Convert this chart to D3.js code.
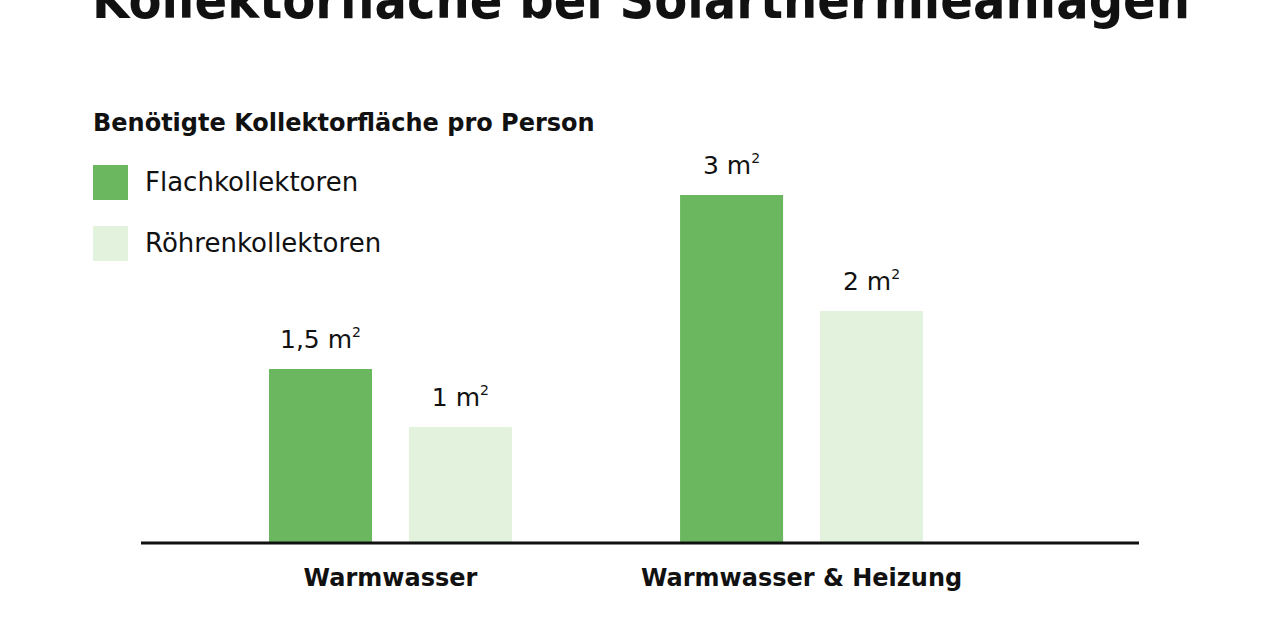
<!DOCTYPE html>
<html>
<head>
<meta charset="utf-8">
<script src="https://cdn.jsdelivr.net/npm/d3@7"></script>
<style>
  body { margin: 0; background: #fff; }
  text { font-family: "DejaVu Sans", "Open Sans", sans-serif; fill: #111; }
</style>
</head>
<body>
<div id="chart"></div>
<script>
// chart values
var categories = ["Warmwasser", "Warmwasser & Heizung"];
var seriesNames = ["Flachkollektoren", "Röhrenkollektoren"];
var flachValues = [1.5, 3];
var roehrenValues = [1, 2];
var valueLabels = [["1,5", "1"], ["3", "2"]];

var svgWidth = 1280;
var svgHeight = 640;
var colors = ["#6bb760", "#e3f2dd"];

var svg = d3.select("#chart")
  .append("svg")
  .attr("width", svgWidth)
  .attr("height", svgHeight);

// title (cut off at the top like the source)
svg.append("text")
  .attr("x", 92)
  .attr("y", 18)
  .attr("font-size", 54)
  .attr("font-weight", 700)
  .attr("textLength", 1098)
  .attr("lengthAdjust", "spacingAndGlyphs")
  .text("Kollektorfläche bei Solarthermieanlagen");

svg.append("text")
  .attr("x", 93)
  .attr("y", 131)
  .attr("font-size", 24)
  .attr("font-weight", 700)
  .text("Benötigte Kollektorfläche pro Person");

// legend
var legend = svg.selectAll(".legend")
  .data(seriesNames)
  .enter()
  .append("g")
  .attr("class", "legend")
  .attr("transform", (d, i) => `translate(93, ${165 + i * 61})`);

legend.append("rect")
  .attr("width", 35)
  .attr("height", 35)
  .attr("fill", (d, i) => colors[i]);

legend.append("text")
  .attr("x", 52)
  .attr("y", 26)
  .attr("font-size", 26)
  .text(d => d);

// scales
var baseY = 543;
var yScale = d3.scaleLinear()
  .domain([0, 3])
  .range([baseY, baseY - 348]);

var x0 = d3.scaleBand()
  .domain(categories)
  .range([269, 923])
  .paddingInner(0.409)
  .paddingOuter(0);

var x1 = d3.scaleBand()
  .domain(seriesNames)
  .range([0, x0.bandwidth()])
  .paddingInner(0.264);

var rows = categories.map(function(c, i) {
  return {
    cat: c,
    vals: [
      { name: seriesNames[0], value: flachValues[i], label: valueLabels[i][0] },
      { name: seriesNames[1], value: roehrenValues[i], label: valueLabels[i][1] }
    ]
  };
});

var groups = svg.selectAll(".group")
  .data(rows)
  .enter()
  .append("g")
  .attr("class", "group")
  .attr("transform", d => `translate(${x0(d.cat)}, 0)`);

groups.selectAll("rect")
  .data(d => d.vals)
  .enter()
  .append("rect")
  .attr("x", d => x1(d.name))
  .attr("y", d => yScale(d.value))
  .attr("width", x1.bandwidth())
  .attr("height", d => baseY - yScale(d.value))
  .attr("fill", (d, i) => colors[i]);

// value labels with superscript 2
var vl = groups.selectAll(".val")
  .data(d => d.vals)
  .enter()
  .append("text")
  .attr("class", "val")
  .attr("x", d => x1(d.name) + x1.bandwidth() / 2)
  .attr("y", d => yScale(d.value) - 21)
  .attr("text-anchor", "middle")
  .attr("font-size", 25);

vl.append("tspan").text(d => d.label + " m");
vl.append("tspan")
  .attr("font-size", 14)
  .attr("dy", -11)
  .text("2");

// axis line
svg.append("line")
  .attr("x1", 141)
  .attr("x2", 1139)
  .attr("y1", baseY)
  .attr("y2", baseY)
  .attr("stroke", "#111")
  .attr("stroke-width", 3);

// category labels
svg.selectAll(".cat")
  .data(categories)
  .enter()
  .append("text")
  .attr("class", "cat")
  .attr("x", d => x0(d) + x0.bandwidth() / 2)
  .attr("y", 586)
  .attr("text-anchor", "middle")
  .attr("font-size", 24)
  .attr("font-weight", 700)
  .text(d => d);
</script>
</body>
</html>
